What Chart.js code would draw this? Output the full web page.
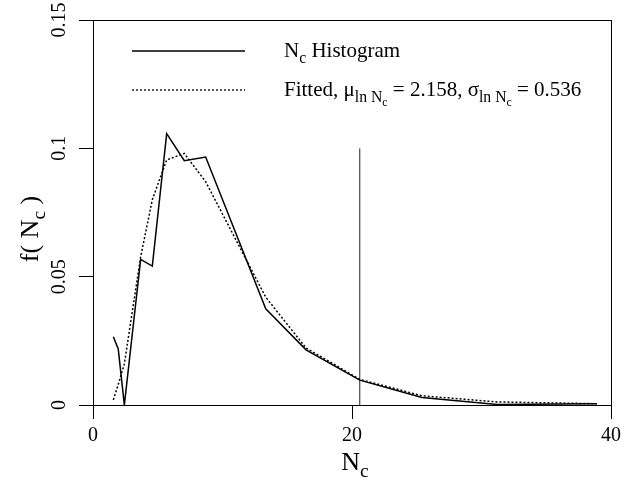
<!DOCTYPE html>
<html>
<head>
<meta charset="utf-8">
<script src="https://cdn.jsdelivr.net/npm/chart.js@4"></script>
<style>
  html, body { margin: 0; padding: 0; background: #fff; }
  #wrap { width: 639px; height: 483px; }
</style>
</head>
<body>
<div id="wrap"><canvas id="chart" width="639" height="483"></canvas></div>
<script>
// data
const nc = [1.57, 1.95, 2.42, 3.68, 4.58, 5.69, 7.05, 8.70, 13.34, 16.45, 20.6, 25.4, 31.2, 38.9];
const histogram = [0.0266, 0.0218, 0, 0.0567, 0.0541, 0.1057, 0.0952, 0.0966, 0.0375, 0.0215, 0.0097, 0.0029, 0.0002, 0.0005];
const fitted = [0.002, 0.008, 0.016, 0.0577, 0.080, 0.0955, 0.098, 0.087, 0.042, 0.0222, 0.0100, 0.0036, 0.0012, 0.0005];
const markerX = [20.6, 20.6];
const markerY = [0, 0.1];
const xTicks = [0, 20, 40];
const yTicks = [0, 0.05, 0.1, 0.15];
const yTickLabels = ["0", "0.05", "0.1", "0.15"];

const SERIF = "'Liberation Serif', 'Times New Roman', serif";
const SUB = 0.75; // subscript shrink

function pts(xs, ys) {
  return xs.map((x, i) => ({ x: x, y: ys[i] }));
}

// text with subscripts; parts = [[text, level], ...]
function richWidth(ctx, parts, size) {
  let w = 0;
  parts.forEach(([t, lv]) => {
    ctx.font = (size * Math.pow(SUB, lv)) + "px " + SERIF;
    w += ctx.measureText(t).width;
  });
  return w;
}
function drawRich(ctx, parts, x, y, size) {
  ctx.textAlign = "left";
  ctx.textBaseline = "alphabetic";
  parts.forEach(([t, lv]) => {
    const s = size * Math.pow(SUB, lv);
    let dy = 0;
    for (let k = 0; k < lv; k++) dy += size * Math.pow(SUB, k) * 0.28;
    ctx.font = s + "px " + SERIF;
    ctx.fillText(t, x, y + dy);
    x += ctx.measureText(t).width;
  });
}

const decorations = {
  id: "decorations",
  afterDraw(chart) {
    const ctx = chart.ctx;
    const a = chart.chartArea;
    const ys = chart.scales.y;
    ctx.save();
    ctx.fillStyle = "#000";
    ctx.strokeStyle = "#000";

    // box
    ctx.lineWidth = 1;
    ctx.strokeRect(a.left + 0.5, a.top + 0.5, a.right - a.left, a.bottom - a.top);

    // rotated y tick labels
    ctx.font = "20px " + SERIF;
    yTicks.forEach((v, i) => {
      const py = ys.getPixelForValue(v);
      ctx.save();
      ctx.translate(60, py);
      ctx.rotate(-Math.PI / 2);
      ctx.textAlign = "center";
      ctx.textBaseline = "middle";
      ctx.fillText(yTickLabels[i], 0, 0);
      ctx.restore();
    });

    // x title
    const xt = [["N", 0], ["c", 1]];
    const xw = richWidth(ctx, xt, 26);
    drawRich(ctx, xt, 355 - xw / 2, 470, 26);

    // y title
    const yt = [["f( N", 0], ["c", 1], [" )", 0]];
    const yw = richWidth(ctx, yt, 26);
    ctx.save();
    ctx.translate(38, 229);
    ctx.rotate(-Math.PI / 2);
    drawRich(ctx, yt, -yw / 2, 0, 26);
    ctx.restore();

    // legend
    ctx.lineWidth = 1.3;
    ctx.beginPath();
    ctx.moveTo(132, 51); ctx.lineTo(245, 51);
    ctx.stroke();
    ctx.setLineDash([2, 2]);
    ctx.beginPath();
    ctx.moveTo(132, 90); ctx.lineTo(245, 90);
    ctx.stroke();
    ctx.setLineDash([]);

    drawRich(ctx, [["N", 0], ["c", 1], [" Histogram", 0]], 284, 57, 21);
    drawRich(ctx, [
      ["Fitted, \u03bc", 0], ["ln N", 1], ["c", 2], [" = 2.158, \u03c3", 0],
      ["ln N", 1], ["c", 2], [" = 0.536", 0]
    ], 284, 96, 21);

    ctx.restore();
  }
};

new Chart(document.getElementById("chart").getContext("2d"), {
  type: "line",
  data: {
    datasets: [
      {
        label: "Histogram",
        data: pts(nc, histogram),
        borderColor: "#000",
        borderWidth: 1.5,
        pointRadius: 0,
        tension: 0,
      },
      {
        label: "Fitted",
        data: pts(nc, fitted),
        borderColor: "#000",
        borderWidth: 1.5,
        borderDash: [2, 2],
        pointRadius: 0,
        tension: 0,
      },
      {
        label: "marker",
        data: pts(markerX, markerY),
        borderColor: "#222",
        borderWidth: 1,
        pointRadius: 0,
      },
    ],
  },
  options: {
    responsive: false,
    animation: false,
    devicePixelRatio: 1,
    layout: { padding: { top: 20, right: 28, left: 0, bottom: 0 } },
    plugins: { legend: { display: false }, tooltip: { enabled: false } },
    scales: {
      x: {
        type: "linear",
        min: 0,
        max: 40,
        afterBuildTicks: (s) => { s.ticks = xTicks.map((v) => ({ value: v })); },
        afterFit: (s) => { s.height = 78; },
        ticks: {
          color: "#000",
          font: { family: SERIF, size: 20 },
          padding: 5,
          maxRotation: 0,
        },
        grid: { drawOnChartArea: false, tickLength: 14, color: "#000" },
        border: { color: "#000", width: 1 },
      },
      y: {
        type: "linear",
        min: 0,
        max: 0.15,
        afterBuildTicks: (s) => { s.ticks = yTicks.map((v) => ({ value: v })); },
        afterFit: (s) => { s.width = 93; },
        ticks: { display: false },
        grid: { drawOnChartArea: false, tickLength: 14, color: "#000" },
        border: { color: "#000", width: 1 },
      },
    },
  },
  plugins: [decorations],
});
</script>
</body>
</html>
